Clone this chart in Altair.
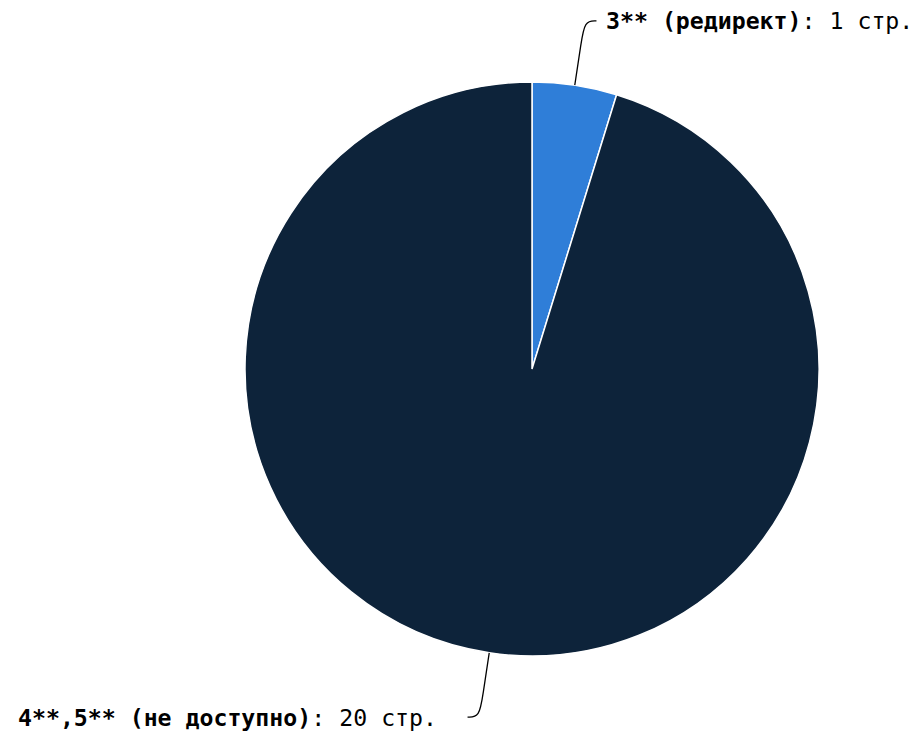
import altair as alt
import pandas as pd

categories = ["3** (редирект)", "4**,5** (не доступно)"]
values = [1, 20]
colors = ["#2f7ed8", "#0d233a"]

df = pd.DataFrame({"name": categories, "value": values, "order": list(range(len(values)))})

CX, CY, R = 524, 361, 287
FS = 23.2
CW = FS * 0.60205

base = (
    alt.Chart(df)
    .transform_joinaggregate(total="sum(value)")
    .transform_window(cum="sum(value)", sort=[alt.SortField("order")], frame=[None, 0])
    .transform_calculate(
        mid="(datum.cum - datum.value/2)/datum.total*2*PI",
    )
    .transform_calculate(sx="sin(datum.mid) >= 0 ? 1 : -1")
)

arcs = (
    alt.Chart(df)
    .mark_arc(radius=R, stroke="white", strokeWidth=1.5)
    .encode(
        theta=alt.Theta("value:Q", stack=True),
        order=alt.Order("order:Q"),
        color=alt.Color("name:N", scale=alt.Scale(domain=categories, range=colors), legend=None),
        x=alt.value(CX),
        y=alt.value(CY),
    )
)

conn = (
    base.transform_calculate(steps="[0,1,2,3]")
    .transform_flatten(["steps"])
    .transform_calculate(
        rr=f"[{R}, 330, 352, 352][datum.steps]",
        hh="[0, 0, 0, 12][datum.steps]",
    )
    .transform_calculate(
        px=f"{CX} + datum.rr*sin(datum.mid) + datum.sx*datum.hh",
        py=f"{CY} - datum.rr*cos(datum.mid)",
    )
    .mark_line(interpolate="basis", color="black", strokeWidth=1.3)
    .encode(
        x=alt.X("px:Q", scale=None, axis=None),
        y=alt.Y("py:Q", scale=None, axis=None),
        order=alt.Order("steps:Q"),
        detail="name:N",
    )
)

lab = (
    base.transform_calculate(
        rest="': ' + datum.value + ' стр.'",
        ex=f"{CX} + 352*sin(datum.mid) + datum.sx*(12 + (datum.sx > 0 ? 9.6 : 30.5))",
        ey=f"{CY} - 352*cos(datum.mid) + 1.5",
    )
    .transform_calculate(
        lx=f"datum.sx > 0 ? datum.ex : datum.ex - (length(datum.name) + length(datum.rest))*{CW}"
    )
    .transform_calculate(rx=f"datum.lx + length(datum.name)*{CW}")
)

bold = lab.mark_text(
    font="DejaVu Sans Mono", fontSize=FS, fontWeight="bold", align="left", baseline="middle", color="black"
).encode(
    x=alt.X("lx:Q", scale=None, axis=None),
    y=alt.Y("ey:Q", scale=None, axis=None),
    text="name:N",
)

normal = lab.mark_text(
    font="DejaVu Sans Mono", fontSize=FS, fontWeight="normal", align="left", baseline="middle", color="black"
).encode(
    x=alt.X("rx:Q", scale=None, axis=None),
    y=alt.Y("ey:Q", scale=None, axis=None),
    text="rest:N",
)

chart = (
    alt.layer(arcs, conn, bold, normal)
    .properties(width=906, height=725, autosize="none", padding=0)
    .configure_view(stroke=None)
)

chart.save("out.html", embed_options={"renderer": "svg", "actions": False})
